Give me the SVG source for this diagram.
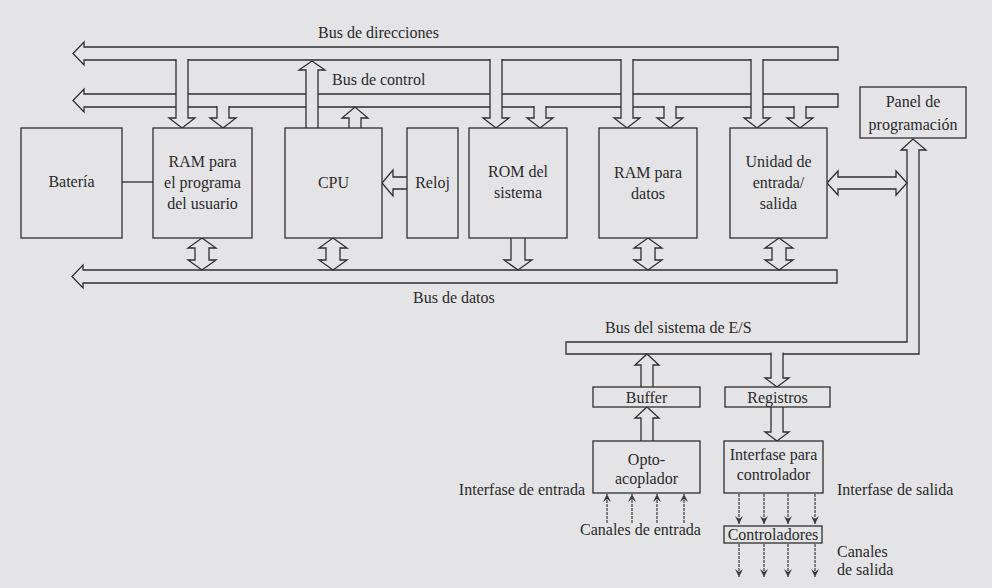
<svg xmlns="http://www.w3.org/2000/svg" width="992" height="588" viewBox="0 0 992 588" font-family="'Liberation Serif', 'DejaVu Serif', serif">
<style>
.bg{fill:#e4e4e6}
.box{fill:#e4e4e6;stroke:#2e2e2e;stroke-width:1.3}
.bus{fill:#e4e4e6;stroke:#2e2e2e;stroke-width:1.3;stroke-linejoin:miter}
.ln{fill:none;stroke:#2e2e2e;stroke-width:1.3}
.thin{fill:none;stroke:#3a3a3a;stroke-width:1.2;stroke-dasharray:3 1}
.t{font-family:'Liberation Serif', 'Times New Roman', serif;font-size:16px;fill:#2a2a2a}
.c{text-anchor:middle}
</style>
<defs>
<marker id="ah" markerUnits="userSpaceOnUse" markerWidth="8" markerHeight="10" refX="8" refY="4" orient="auto">
<path d="M0,0 L8,4 L0,8 L3,4 Z" fill="#3a3a3a"/>
</marker>
</defs>
<rect class="bg" x="0" y="0" width="992" height="588"/>

<g id="connectors">
<path id="bus-direcciones" class="bus" d="M838,47 H84 V42 L73,53.5 L84,65 V60 H838 Z"/>
<path id="bus-control" class="bus" d="M838,94 H84 V89 L73,100.5 L84,112 V107 H838 Z"/>
<path id="bus-datos" class="bus" d="M837,270 H83 V265 L72,276.5 L83,288 V283 H837 Z"/>
<path id="bus-es" class="bus" d="M566,342 H907 V150 H901 L913,139 L926,150 H919 V354 H566 Z"/>

<path class="bus" d="M176,59 V118 H169 L182,128 L195,118 H188 V59"/>
<path class="bus" d="M490,59 V118 H483 L496,128 L509,118 H502 V59"/>
<path class="bus" d="M621,59 V118 H614 L627,128 L640,118 H633 V59"/>
<path class="bus" d="M751,59 V118 H744 L757,128 L770,118 H763 V59"/>
<path class="bus" d="M217,106 V118 H210 L223,128 L236,118 H229 V106"/>
<path class="bus" d="M534,106 V118 H527 L540,128 L553,118 H546 V106"/>
<path class="bus" d="M664,106 V118 H657 L670,128 L683,118 H676 V106"/>
<path class="bus" d="M794,106 V118 H787 L800,128 L813,118 H806 V106"/>
<path class="bus" d="M306,128 V70 H299 L312,61 L325,70 H318 V128"/>
<path class="bus" d="M349,128 V118 H342 L355,107 L368,118 H361 V128"/>

<path class="bus" d="M202,238 L216,248 H209 V260 H216 L202,270 L188,260 H195 V248 H188 Z"/>
<path class="bus" d="M333,238 L347,248 H340 V260 H347 L333,270 L319,260 H326 V248 H319 Z"/>
<path class="bus" d="M648,238 L662,248 H655 V260 H662 L648,270 L634,260 H641 V248 H634 Z"/>
<path class="bus" d="M779,238 L793,248 H786 V260 H793 L779,270 L765,260 H772 V248 H765 Z"/>
<path class="bus" d="M511,238 V260 H504 L518,270 L532,260 H525 V238"/>

<path class="bus" d="M407,177 H393 V170 L382,183 L393,196 V189 H407"/>
<line class="ln" x1="122" y1="182" x2="153" y2="182"/>
<path class="bus" d="M827,183 L838,171 V177 H896 V171 L907,183 L896,195 V189 H838 V195 Z"/>

<path class="bus" d="M641,387 V365 H635 L647,354 L659,365 H653 V387"/>
<path class="bus" d="M771,352.5 V378 H765 L777,387 L789,378 H783 V352.5"/>
<path class="bus" d="M641,441 V418 H635 L647,407 L659,418 H653 V441"/>
<path class="bus" d="M771,407 V432 H765 L777,441 L789,432 H783 V407"/>

<line class="thin" x1="607" y1="523" x2="607" y2="494" marker-end="url(#ah)"/>
<line class="thin" x1="632" y1="523" x2="632" y2="494" marker-end="url(#ah)"/>
<line class="thin" x1="657" y1="523" x2="657" y2="494" marker-end="url(#ah)"/>
<line class="thin" x1="684" y1="523" x2="684" y2="494" marker-end="url(#ah)"/>
<line class="thin" x1="739" y1="494" x2="739" y2="524" marker-end="url(#ah)"/>
<line class="thin" x1="764" y1="494" x2="764" y2="524" marker-end="url(#ah)"/>
<line class="thin" x1="788" y1="494" x2="788" y2="524" marker-end="url(#ah)"/>
<line class="thin" x1="815" y1="494" x2="815" y2="524" marker-end="url(#ah)"/>
<line class="thin" x1="739" y1="544" x2="739" y2="577" marker-end="url(#ah)"/>
<line class="thin" x1="764" y1="544" x2="764" y2="577" marker-end="url(#ah)"/>
<line class="thin" x1="788" y1="544" x2="788" y2="577" marker-end="url(#ah)"/>
<line class="thin" x1="815" y1="544" x2="815" y2="577" marker-end="url(#ah)"/>
</g>

<g id="bus-labels" class="t">
<text class="t" x="318" y="38">Bus de direcciones</text>
<text class="t" x="332" y="85">Bus de control</text>
<text class="t" x="413" y="303">Bus de datos</text>
<text class="t" x="605" y="333">Bus del sistema de E/S</text>
<text class="t" x="585" y="495" text-anchor="end">Interfase de entrada</text>
<text class="t" x="580" y="535">Canales de entrada</text>
<text class="t" x="837" y="495">Interfase de salida</text>
<text class="t" x="837" y="557">Canales</text>
<text class="t" x="837" y="575">de salida</text>
</g>

<g id="bateria">
<rect class="box" x="21" y="128" width="101" height="110"/>
<text class="t c" x="71.5" y="187">Batería</text>
</g>
<g id="ram-usuario">
<rect class="box" x="153" y="128" width="99" height="110"/>
<text class="t c" x="202.5" y="167">RAM para</text>
<text class="t c" x="202.5" y="188">el programa</text>
<text class="t c" x="202.5" y="209">del usuario</text>
</g>
<g id="cpu">
<rect class="box" x="285" y="128" width="97" height="110"/>
<text class="t c" x="333.5" y="188">CPU</text>
</g>
<g id="reloj">
<rect class="box" x="407" y="128" width="51" height="110"/>
<text class="t c" x="432.5" y="188">Reloj</text>
</g>
<g id="rom">
<rect class="box" x="469" y="128" width="98" height="110"/>
<text class="t c" x="518" y="177">ROM del</text>
<text class="t c" x="518" y="198">sistema</text>
</g>
<g id="ram-datos">
<rect class="box" x="599" y="128" width="98" height="110"/>
<text class="t c" x="648" y="178">RAM para</text>
<text class="t c" x="648" y="199">datos</text>
</g>
<g id="unidad-es">
<rect class="box" x="730" y="128" width="97" height="110"/>
<text class="t c" x="778.5" y="167">Unidad de</text>
<text class="t c" x="778.5" y="188">entrada/</text>
<text class="t c" x="778.5" y="209">salida</text>
</g>
<g id="panel">
<rect class="box" x="860" y="87" width="106" height="51"/>
<text class="t c" x="913" y="107">Panel de</text>
<text class="t c" x="913" y="130">programación</text>
</g>
<g id="buffer">
<rect class="box" x="593" y="387" width="107" height="20"/>
<text class="t c" x="646.5" y="403">Buffer</text>
</g>
<g id="registros">
<rect class="box" x="725" y="387" width="105" height="20"/>
<text class="t c" x="777.5" y="403">Registros</text>
</g>
<g id="optoacoplador">
<rect class="box" x="593" y="441" width="107" height="52"/>
<text class="t c" x="646.5" y="465">Opto-</text>
<text class="t c" x="646.5" y="484">acoplador</text>
</g>
<g id="interfase-controlador">
<rect class="box" x="724" y="441" width="99" height="52"/>
<text class="t c" x="773.5" y="460">Interfase para</text>
<text class="t c" x="773.5" y="480">controlador</text>
</g>
<g id="controladores">
<rect class="box" x="724" y="526" width="98" height="17"/>
<text class="t c" x="773" y="540">Controladores</text>
</g>
</svg>
